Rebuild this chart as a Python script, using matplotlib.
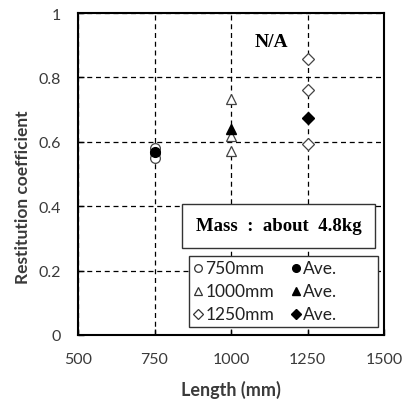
import matplotlib.pyplot as plt
from matplotlib.patches import Rectangle

lengths = [750, 1000, 1250]
trials_750 = [0.582, 0.565, 0.550]
trials_1000 = [0.733, 0.617, 0.572]
trials_1250 = [0.857, 0.762, 0.593]
averages = [0.567, 0.641, 0.674]

legend_labels = ["750mm", "1000mm", "1250mm"]
x_ticks = [500, 750, 1000, 1250, 1500]
y_ticks = [0, 0.2, 0.4, 0.6, 0.8, 1]
y_tick_labels = ["0", "0.2", "0.4", "0.6", "0.8", "1"]

SANS = "Lato"
SERIF = "Liberation Serif"

fig = plt.figure(figsize=(4.08, 4.06), dpi=100)
ax = fig.add_axes([78 / 408, 1 - 336 / 406, 306 / 408, 322 / 406])

ax.set_xlim(500, 1500)
ax.set_ylim(0, 1)
ax.set_xticks(x_ticks)
ax.set_yticks(y_ticks)
ax.set_yticklabels(y_tick_labels)
ax.grid(True, color="black", linestyle=(0, (4, 3)), linewidth=0.9)
ax.set_axisbelow(True)
for s in ax.spines.values():
    s.set_linewidth(1.5)
ax.tick_params(direction="in", length=4, width=1, labelsize=11.5,
               labelcolor="#3a3a3a")
ax.tick_params(axis="x", pad=12)
ax.tick_params(axis="y", pad=12)
for lab in ax.get_xticklabels() + ax.get_yticklabels():
    lab.set_family(SANS)

msz = 7
mk = dict(markerfacecolor="white", markeredgecolor="#444444",
          markeredgewidth=0.9, linestyle="none", markersize=msz)
ax.plot([lengths[0]] * len(trials_750), trials_750, marker="o", **mk)
ax.plot([lengths[1]] * len(trials_1000), trials_1000, marker="^", **mk)
ax.plot([lengths[2]] * len(trials_1250), trials_1250, marker="D",
        **{**mk, "markersize": 6})

ax.plot(lengths[0], averages[0], marker="o", color="black", markersize=msz, linestyle="none")
ax.plot(lengths[1], averages[1], marker="^", color="black", markersize=msz, linestyle="none")
ax.plot(lengths[2], averages[2], marker="D", color="black", markersize=6, linestyle="none")

ax.set_xlabel("Length (mm)", fontsize=13, fontweight="bold", family=SANS,
              color="#3a3a3a", labelpad=10)
ax.set_ylabel("Restitution coefficient", fontsize=12.5, fontweight="bold",
              family=SANS, color="#3a3a3a")
ax.yaxis.set_label_coords(-0.152, 0.43)

ax.text(1132, 0.911, "N/A", fontsize=14, fontweight="bold",
        family=SERIF, ha="center", va="center")

# mass annotation box
ax.add_patch(Rectangle((840, 0.270), 1471 - 840, 0.407 - 0.270,
                       facecolor="white", edgecolor="#333333", linewidth=1.0, zorder=3))
ax.text(1155, 0.339, "Mass  :  about  4.8kg", fontsize=13.5, fontweight="bold",
        family=SERIF, ha="center", va="center", zorder=4)

# legend box
ax.add_patch(Rectangle((863, 0.025), 1480 - 863, 0.245 - 0.025,
                       facecolor="white", edgecolor="#333333", linewidth=1.0, zorder=3))
rows = [0.208, 0.138, 0.065]
markers = ["o", "^", "D"]
for y, m, lab in zip(rows, markers, legend_labels):
    ax.plot(892, y, marker=m, markerfacecolor="white", markeredgecolor="#333333",
            markeredgewidth=0.9, markersize=5.5 if m != "D" else 5,
            linestyle="none", zorder=4)
    ax.text(917, y, lab, fontsize=12.5, family=SANS, color="#222222",
            ha="left", va="center", zorder=4)
    ax.plot(1214, y, marker=m, color="black", markersize=5.5 if m != "D" else 5,
            linestyle="none", zorder=4)
    ax.text(1235, y, "Ave.", fontsize=12.5, family=SANS, color="#222222",
            ha="left", va="center", zorder=4)

fig.savefig("out.png", dpi=100)
